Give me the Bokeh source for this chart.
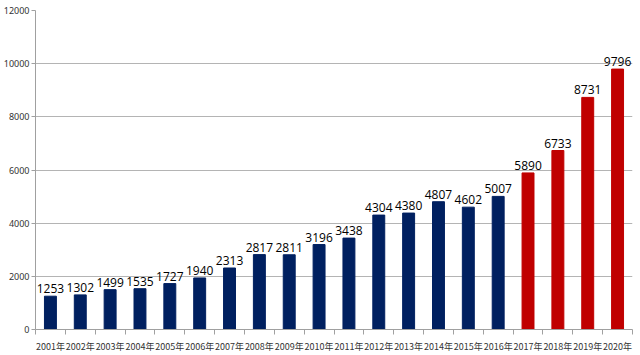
from bokeh.plotting import figure
from bokeh.models import ColumnDataSource, FixedTicker, LabelSet, Range1d
from bokeh.core.properties import value
from bokeh.embed import file_html
from bokeh.resources import INLINE

years = ["2001年", "2002年", "2003年", "2004年", "2005年", "2006年", "2007年", "2008年", "2009年", "2010年",
         "2011年", "2012年", "2013年", "2014年", "2015年", "2016年", "2017年", "2018年", "2019年", "2020年"]
counts = [1253, 1302, 1499, 1535, 1727, 1940, 2313, 2817, 2811, 3196,
          3438, 4304, 4380, 4807, 4602, 5007, 5890, 6733, 8731, 9796]
colors = ["#002060"] * 16 + ["#C00000"] * 4
y_ticks = [0, 2000, 4000, 6000, 8000, 10000, 12000]

xs = list(range(1, len(years) + 1))
src = ColumnDataSource(dict(x=xs, y=counts, c=colors, lab=[str(v) for v in counts]))

p = figure(width=640, height=355, output_backend="svg", toolbar_location=None,
           x_range=Range1d(0.5, len(years) + 0.5), y_range=Range1d(0, 12000),
           min_border_left=32, min_border_right=8, min_border_top=10, min_border_bottom=24)
p.outline_line_color = None
p.background_fill_color = "white"
p.border_fill_color = "white"

p.vbar(x="x", top="y", width=0.4, color="c", source=src)

labels = LabelSet(x="x", y="y", text="lab", source=src, text_align="center", text_baseline="bottom",
                  y_offset=3, text_font=value("Open Sans"), text_font_size="12px", text_color="#000000")
p.add_layout(labels)

# y axis
p.yaxis.ticker = FixedTicker(ticks=y_ticks, minor_ticks=[])
p.yaxis.axis_line_color = "#a0a0a0"
p.yaxis.major_tick_line_color = "#a0a0a0"
p.yaxis.major_tick_out = 4
p.yaxis.major_tick_in = 0
p.yaxis.major_label_text_font_size = "9px"
p.yaxis.major_label_text_font = "Noto Sans"
p.yaxis.major_label_text_color = "#333333"
p.yaxis.major_label_standoff = 2
p.ygrid.ticker = FixedTicker(ticks=y_ticks)
p.ygrid.grid_line_color = "#b4b4b4"
p.ygrid.grid_line_width = 1

# x axis
p.xaxis.ticker = FixedTicker(ticks=xs, minor_ticks=[x + 0.5 for x in [0] + xs])
p.xaxis.major_label_overrides = {x: y for x, y in zip(xs, years)}
p.xaxis.axis_line_color = "#a0a0a0"
p.xaxis.major_tick_out = 0
p.xaxis.major_tick_in = 0
p.xaxis.minor_tick_out = 5
p.xaxis.minor_tick_in = 0
p.xaxis.minor_tick_line_color = "#a0a0a0"
p.xaxis.major_label_text_font_size = "9px"
p.xaxis.major_label_text_font = "Noto Sans CJK JP"
p.xaxis.major_label_text_color = "#333333"
p.xaxis.major_label_standoff = 5
p.xgrid.grid_line_color = None

open("out.html", "w").write(file_html(p, INLINE))
